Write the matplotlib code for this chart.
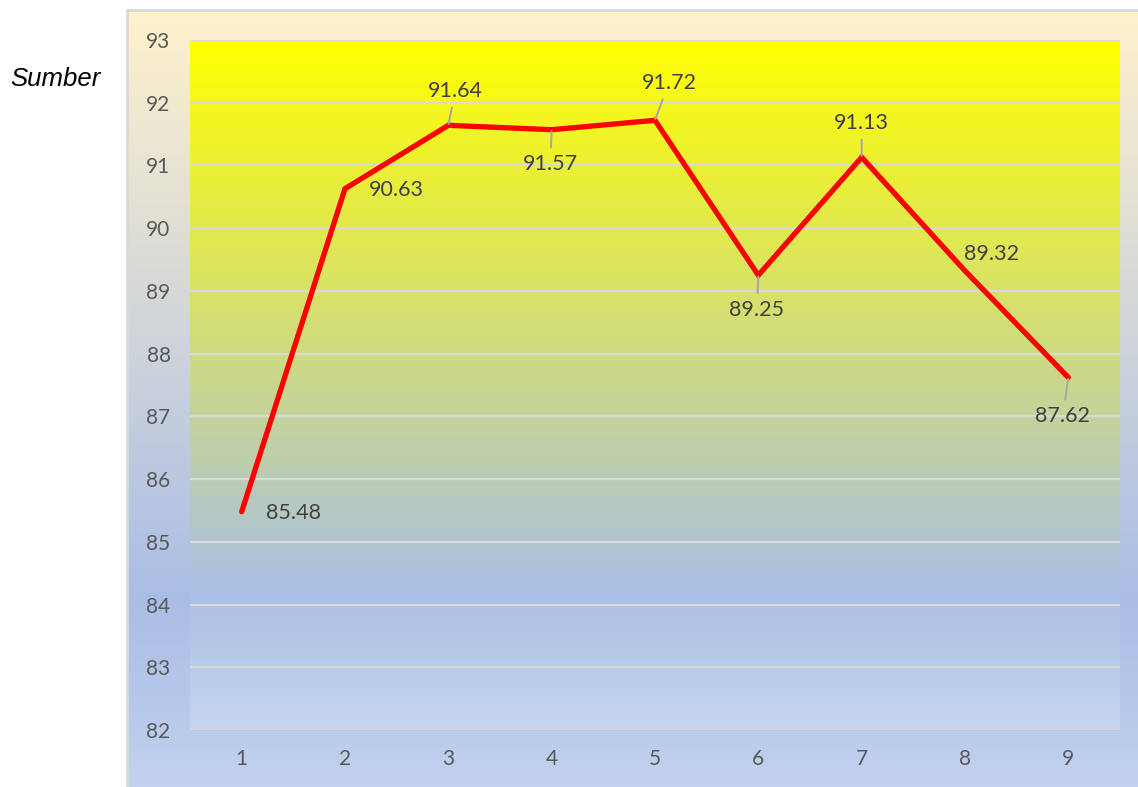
import matplotlib.pyplot as plt
import numpy as np
from matplotlib.colors import LinearSegmentedColormap

# series values
periods = [1, 2, 3, 4, 5, 6, 7, 8, 9]
scores = [85.48, 90.63, 91.64, 91.57, 91.72, 89.25, 91.13, 89.32, 87.62]
y_ticks = [82, 83, 84, 85, 86, 87, 88, 89, 90, 91, 92, 93]

# label offsets in points (dx, dy) and whether a leader line is drawn
label_offsets = [(37, -1), (37, -1), (5, 25), (-1, -25), (10, 27), (-1, -25), (0, 25), (19, 12), (-4, -28)]
leaders = [False, False, True, True, True, True, True, False, True]

plt.rcParams['font.family'] = ['Lato', 'DejaVu Sans']

fig = plt.figure(figsize=(11.38, 7.87), dpi=100)
W, H = 1138, 787

# outer chart panel with its own vertical gradient
panel = fig.add_axes([127 / W, 0, 1 - 127 / W, 777 / H], zorder=0)
panel_cmap = LinearSegmentedColormap.from_list(
    'panel', [(0, '#FFF2CC'), (0.76, '#A9BDE5'), (1, '#C2D2EE')])
grad = np.linspace(0, 1, 256).reshape(-1, 1)
panel.imshow(grad, aspect='auto', cmap=panel_cmap, extent=[0, 1, 0, 1], origin='upper')
panel.set_xlim(0, 1)
panel.set_ylim(0, 1)
panel.set_xticks([])
panel.set_yticks([])
for side in ['right', 'bottom']:
    panel.spines[side].set_visible(False)
for side in ['top', 'left']:
    panel.spines[side].set_color('#D9D9D9')
    panel.spines[side].set_linewidth(2)

ax = fig.add_axes([190 / W, 57 / H, 930 / W, 690 / H], zorder=1)
plot_cmap = LinearSegmentedColormap.from_list(
    'plot', [(0, '#FFFF00'), (0.8, '#A9BFE4'), (1, '#C6D5EE')])
ax.imshow(grad, aspect='auto', cmap=plot_cmap, extent=[0.5, 9.5, 82, 93],
          origin='upper', zorder=0)

ax.set_xlim(0.5, 9.5)
ax.set_ylim(82, 93)
ax.set_yticks(y_ticks)
ax.set_xticks(periods)
ax.grid(axis='y', color='#D9D9D9', linewidth=1.6, zorder=1)
ax.set_axisbelow(False)
for s in ax.spines.values():
    s.set_visible(False)
ax.tick_params(length=0, labelsize=15, labelcolor='#595959', pad=14)
ax.tick_params(axis='x', pad=14)

ax.plot(periods, scores, color='#FF0000', linewidth=3.8, zorder=3,
        solid_joinstyle='miter', solid_capstyle='round')

for x, y, (dx, dy), lead in zip(periods, scores, label_offsets, leaders):
    arrow = dict(arrowstyle='-', color='#A6A6A6', lw=1.4, shrinkA=3, shrinkB=1) if lead else None
    ax.annotate(f'{y:.2f}', (x, y), xytext=(dx, dy), textcoords='offset points',
                ha='center', va='center', fontsize=15.5, color='#404040',
                arrowprops=arrow, zorder=4)

fig.text(10 / W, 1 - 79 / H, 'Sumber', fontsize=18.5, style='italic',
         family=['Liberation Sans', 'DejaVu Sans'], va='center', ha='left')

fig.savefig('out.png', dpi=100)
